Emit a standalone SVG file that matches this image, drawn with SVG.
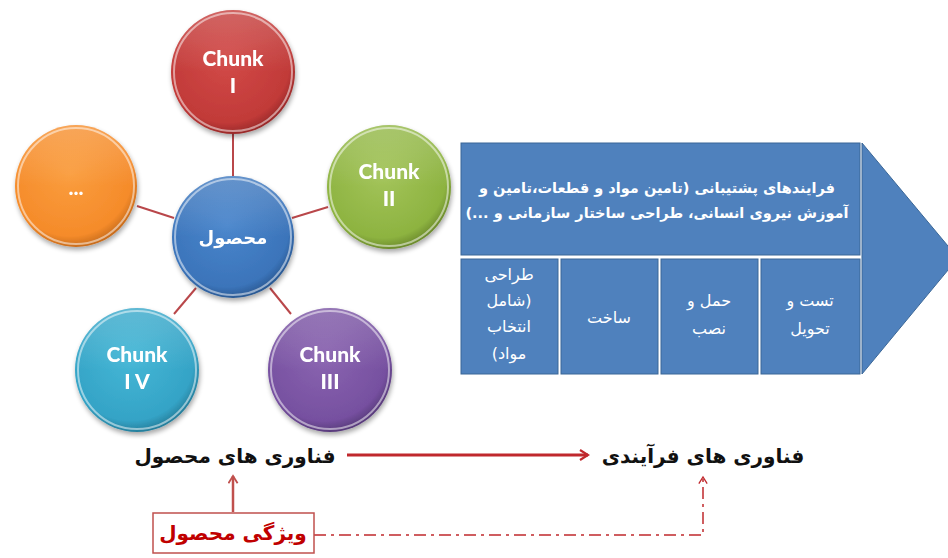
<svg xmlns="http://www.w3.org/2000/svg" width="948" height="558" viewBox="0 0 948 558">
<style>
.chunk{font-family:"Lato","Open Sans",sans-serif;font-weight:900;font-size:21px;fill:#fff;text-anchor:middle}
.fa{font-family:"DejaVu Sans","Noto Sans",sans-serif;direction:rtl;text-anchor:middle}
.wt{fill:#fff;font-size:16px}
.top{fill:#fff;font-size:14.5px;font-weight:bold}
.conn{stroke:#b9474a;stroke-width:2;fill:none}
.box{fill:#4f81bd;stroke:#3b6797;stroke-width:1}
.rim{fill:none;stroke:#fff;stroke-opacity:0.5;stroke-width:2}
</style>
<defs>
<radialGradient id="gRed" cx="0.45" cy="0.4" r="0.6"><stop offset="0" stop-color="#d24a48"/><stop offset="0.85" stop-color="#c13a38"/><stop offset="1" stop-color="#9a2a2a"/></radialGradient>
<radialGradient id="gGreen" cx="0.45" cy="0.4" r="0.6"><stop offset="0" stop-color="#a3c45a"/><stop offset="0.85" stop-color="#8db340"/><stop offset="1" stop-color="#6d8c2d"/></radialGradient>
<radialGradient id="gPurple" cx="0.45" cy="0.4" r="0.6"><stop offset="0" stop-color="#8a64b0"/><stop offset="0.85" stop-color="#7650a0"/><stop offset="1" stop-color="#593b7c"/></radialGradient>
<radialGradient id="gTeal" cx="0.45" cy="0.4" r="0.6"><stop offset="0" stop-color="#45b7d6"/><stop offset="0.85" stop-color="#34a3c6"/><stop offset="1" stop-color="#267f9c"/></radialGradient>
<radialGradient id="gOrange" cx="0.45" cy="0.4" r="0.6"><stop offset="0" stop-color="#fa9d3e"/><stop offset="0.85" stop-color="#f58b2a"/><stop offset="1" stop-color="#c96d1c"/></radialGradient>
<radialGradient id="gBlue" cx="0.45" cy="0.4" r="0.6"><stop offset="0" stop-color="#4a86cc"/><stop offset="0.85" stop-color="#3b74ba"/><stop offset="1" stop-color="#2b5a94"/></radialGradient>
<linearGradient id="gloss" x1="0" y1="0" x2="0" y2="1"><stop offset="0" stop-color="#fff" stop-opacity="0.2"/><stop offset="0.5" stop-color="#fff" stop-opacity="0"/></linearGradient>
<filter id="sh" x="-20%" y="-20%" width="140%" height="140%"><feGaussianBlur in="SourceAlpha" stdDeviation="2.5"/><feOffset dx="1" dy="3"/><feComponentTransfer><feFuncA type="linear" slope="0.35"/></feComponentTransfer><feMerge><feMergeNode/><feMergeNode in="SourceGraphic"/></feMerge></filter>
<marker id="arr" viewBox="0 0 12 12" refX="10" refY="6" markerWidth="12" markerHeight="12" markerUnits="userSpaceOnUse" orient="auto"><path d="M2,1 L10,6 L2,11" fill="none" stroke="#c0282d" stroke-width="2.2"/></marker>
<marker id="arrS" viewBox="0 0 12 12" refX="10" refY="6" markerWidth="11" markerHeight="11" markerUnits="userSpaceOnUse" orient="auto"><path d="M2,1 L10,6 L2,11" fill="none" stroke="#c0504d" stroke-width="2"/></marker>
<marker id="arrD" viewBox="0 0 12 12" refX="10" refY="6" markerWidth="10" markerHeight="10" markerUnits="userSpaceOnUse" orient="auto"><path d="M2,1 L10,6 L2,11" fill="none" stroke="#c0282d" stroke-width="1.6"/></marker>
</defs>
<rect width="948" height="558" fill="#fff"/>

<g id="connectors">
<line class="conn" x1="233" y1="134" x2="233" y2="178"/>
<line class="conn" x1="292" y1="218" x2="328" y2="207"/>
<line class="conn" x1="137" y1="206" x2="174" y2="218"/>
<line class="conn" x1="196" y1="288" x2="174" y2="314"/>
<line class="conn" x1="270" y1="288" x2="291" y2="314"/>
<line x1="347" y1="455" x2="588" y2="455" stroke="#c0282d" stroke-width="3" marker-end="url(#arr)"/>
<line x1="233" y1="512" x2="233" y2="476" stroke="#c0504d" stroke-width="2.5" marker-end="url(#arrS)"/>
<polyline points="314,535 703,535 703,477" fill="none" stroke="#c0282d" stroke-width="1.5" stroke-dasharray="12,5,3,5" marker-end="url(#arrD)"/>
</g>

<g id="chunk1" filter="url(#sh)">
<circle cx="233" cy="72" r="62" fill="url(#gRed)"/><circle cx="233" cy="72" r="62" fill="url(#gloss)"/><circle cx="233" cy="72" r="59" class="rim"/>
<text class="chunk" x="233" y="66">Chunk</text><text class="chunk" x="233" y="93">I</text>
</g>
<g id="chunk2" filter="url(#sh)">
<circle cx="389" cy="187" r="62" fill="url(#gGreen)"/><circle cx="389" cy="187" r="62" fill="url(#gloss)"/><circle cx="389" cy="187" r="59" class="rim"/>
<text class="chunk" x="389" y="179">Chunk</text><text class="chunk" x="389" y="206">II</text>
</g>
<g id="chunk3" filter="url(#sh)">
<circle cx="330" cy="370" r="62" fill="url(#gPurple)"/><circle cx="330" cy="370" r="62" fill="url(#gloss)"/><circle cx="330" cy="370" r="59" class="rim"/>
<text class="chunk" x="330" y="362">Chunk</text><text class="chunk" x="330" y="389">III</text>
</g>
<g id="chunk4" filter="url(#sh)">
<circle cx="137" cy="370" r="62" fill="url(#gTeal)"/><circle cx="137" cy="370" r="62" fill="url(#gloss)"/><circle cx="137" cy="370" r="59" class="rim"/>
<text class="chunk" x="137" y="362">Chunk</text><text class="chunk" x="137" y="389">I V</text>
</g>
<g id="etc" filter="url(#sh)">
<circle cx="76" cy="186" r="61" fill="url(#gOrange)"/><circle cx="76" cy="186" r="61" fill="url(#gloss)"/><circle cx="76" cy="186" r="58" class="rim"/>
<text class="chunk" x="76" y="195">...</text>
</g>
<g id="product" filter="url(#sh)">
<circle cx="233" cy="237" r="61" fill="url(#gBlue)"/><circle cx="233" cy="237" r="61" fill="url(#gloss)"/><circle cx="233" cy="237" r="58" class="rim"/>
<text class="fa" x="233" y="244" fill="#fff" font-size="18" font-weight="bold">محصول</text>
</g>

<g id="process">
<polygon points="862,143 958,258 862,374" fill="#4f81bd" stroke="#3b6797"/>
<rect class="box" x="461" y="143" width="399" height="112"/>
<text class="fa top" x="657" y="193">فرایندهای  پشتیبانی (تامین مواد و قطعات،تامین و</text>
<text class="fa top" x="657" y="218">آموزش نیروی انسانی، طراحی ساختار سازمانی و ...)</text>
<rect class="box" x="461" y="259" width="97" height="115"/>
<rect class="box" x="561" y="259" width="97" height="115"/>
<rect class="box" x="661" y="259" width="97" height="115"/>
<rect class="box" x="761" y="259" width="99" height="115"/>
<text class="fa wt" x="509" y="280">طراحی</text>
<text class="fa wt" x="509" y="306">(شامل</text>
<text class="fa wt" x="509" y="332">انتخاب</text>
<text class="fa wt" x="509" y="359">مواد)</text>
<text class="fa wt" x="609" y="323">ساخت</text>
<text class="fa wt" x="709" y="306">حمل و</text>
<text class="fa wt" x="709" y="334">نصب</text>
<text class="fa wt" x="810" y="306">تست و</text>
<text class="fa wt" x="810" y="334">تحویل</text>
</g>

<g id="productTech">
<text class="fa" x="235" y="463" font-size="20" font-weight="bold" fill="#111">فناوری های محصول</text>
</g>
<g id="processTech">
<text class="fa" x="703" y="463" font-size="20" font-weight="bold" fill="#111">فناوری های فرآیندی</text>
</g>
<g id="feature">
<rect x="153" y="513" width="161" height="40" fill="#fff" stroke="#c0504d" stroke-width="1.5"/>
<text class="fa" x="233" y="540" font-size="20" font-weight="bold" fill="#c00000">ویژگی محصول</text>
</g>
</svg>
